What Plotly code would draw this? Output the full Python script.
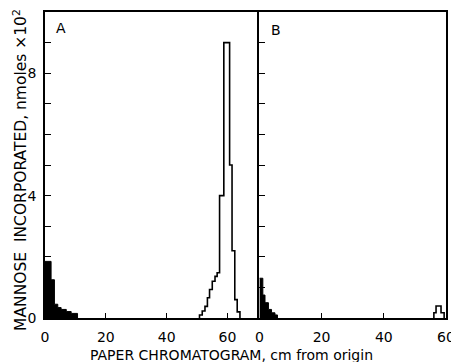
import plotly.graph_objects as go

# Panel A: filled region near origin (bin edges in cm, heights in nmoles x10^2)
a_fill_edges = [0, 2.0, 3.1, 4.2, 5.3, 7.0, 8.6, 10.7]
a_fill_vals = [1.85, 1.25, 0.45, 0.34, 0.28, 0.21, 0.15]

# Panel A: open (outlined) peak
a_peak_edges = [50.8, 51.7, 52.6, 53.4, 54.1, 55.0, 55.9, 56.6, 57.4, 58.8, 60.7, 61.5, 62.4, 63.2, 64.1]
a_peak_vals = [0.1, 0.23, 0.38, 0.66, 0.93, 1.2, 1.36, 1.48, 4.0, 9.0, 5.0, 2.2, 0.6, 0.2]

# Panel B: filled region near origin
b_fill_edges = [0, 1.1, 1.8, 2.9, 3.9, 5.0, 5.8]
b_fill_vals = [1.3, 0.75, 0.5, 0.28, 0.17, 0.1]

# Panel B: small open peak
b_peak_edges = [56.1, 56.8, 58.4, 59.4]
b_peak_vals = [0.17, 0.39, 0.17]

x_ticks = [0, 20, 40, 60]
y_major_ticks = [0, 4, 8]
y_minor_ticks = [1, 2, 3, 4, 5, 6, 7, 8, 9]

FONT = "DejaVu Sans"


def step_xy(edges, vals, start_at_zero=False):
    xs = list(edges)
    ys = list(vals) + [0]
    if start_at_zero:
        xs = [edges[0]] + xs
        ys = [0] + ys
    return xs, ys


fig = go.Figure()

x, y = step_xy(a_fill_edges, a_fill_vals)
fig.add_trace(go.Scatter(x=x, y=y, mode="lines", line=dict(shape="hv", color="black", width=1),
                         fill="tozeroy", fillcolor="black", xaxis="x", yaxis="y", showlegend=False))
x, y = step_xy(a_peak_edges, a_peak_vals, start_at_zero=True)
fig.add_trace(go.Scatter(x=x, y=y, mode="lines", line=dict(shape="hv", color="black", width=1.6),
                         xaxis="x", yaxis="y", showlegend=False))
x, y = step_xy(b_fill_edges, b_fill_vals)
fig.add_trace(go.Scatter(x=x, y=y, mode="lines", line=dict(shape="hv", color="black", width=1),
                         fill="tozeroy", fillcolor="black", xaxis="x2", yaxis="y2", showlegend=False))
x, y = step_xy(b_peak_edges, b_peak_vals, start_at_zero=True)
fig.add_trace(go.Scatter(x=x, y=y, mode="lines", line=dict(shape="hv", color="black", width=1.6),
                         xaxis="x2", yaxis="y2", showlegend=False))

d = 0.5347
axis_common = dict(showline=True, linecolor="black", linewidth=1.6, ticks="inside",
                   tickcolor="black", tickwidth=1.4, showgrid=False, zeroline=False,
                   tickfont=dict(family=FONT, size=14, color="black"))

fig.update_layout(
    width=451, height=362,
    margin=dict(l=45, r=3, t=12, b=44),
    paper_bgcolor="white", plot_bgcolor="white",
    xaxis=dict(domain=[0, d], range=[0, 70.5], tickvals=x_ticks, ticklen=5, mirror=True,
               anchor="y", ticklabelstandoff=5, ticklabeloverflow="allow", **axis_common),
    yaxis=dict(range=[0, 10], tickvals=y_major_ticks, ticklen=6,
               minor=dict(tickvals=y_minor_ticks, ticks="inside", ticklen=6,
                          tickcolor="black", tickwidth=1.4, showgrid=False),
               anchor="x", ticklabelstandoff=4, **axis_common),
    xaxis2=dict(domain=[d, 1], range=[0, 60], tickvals=x_ticks, ticklen=5, mirror=True,
                anchor="y2", ticklabelstandoff=5, ticklabeloverflow="allow", automargin=False,
                **axis_common),
    yaxis2=dict(range=[0, 10], tickvals=y_minor_ticks, showticklabels=False, ticklen=6,
                anchor="x2", mirror=True, **axis_common),
    annotations=[
        dict(text="PAPER CHROMATOGRAM, cm from origin", xref="paper", yref="paper",
             x=0.464, y=-0.121, xanchor="center", yanchor="middle", showarrow=False,
             font=dict(family=FONT, size=14, color="black")),
        dict(text="MANNOSE  INCORPORATED, nmoles ×10<sup>2</sup>", xref="paper", yref="paper",
             x=-0.06, y=0.4837, xanchor="center", yanchor="middle", textangle=-90, showarrow=False,
             font=dict(family=FONT, size=15.5, color="black")),
        dict(text="A", xref="paper", yref="paper", x=0.0397, y=0.948, xanchor="center",
             yanchor="middle", showarrow=False, font=dict(family=FONT, size=14, color="black")),
        dict(text="B", xref="paper", yref="paper", x=0.576, y=0.941, xanchor="center",
             yanchor="middle", showarrow=False, font=dict(family=FONT, size=14, color="black")),
    ],
)

fig.write_html("out.html", config={"displayModeBar": False},
               post_script="document.body.style.margin='0';document.body.style.overflow='hidden';")
